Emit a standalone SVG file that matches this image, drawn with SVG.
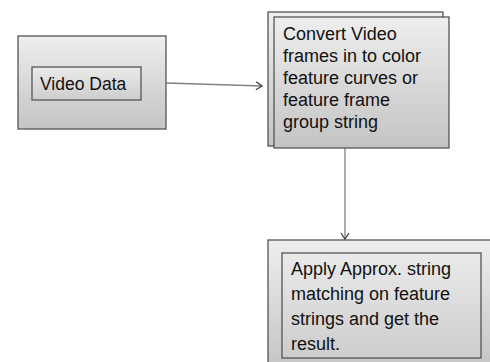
<svg xmlns="http://www.w3.org/2000/svg" width="490" height="362" viewBox="0 0 490 362">
<defs>
<linearGradient id="g" x1="0" y1="0" x2="0" y2="1">
<stop offset="0" stop-color="#eeeeee"/>
<stop offset="1" stop-color="#c4c4c4"/>
</linearGradient>
<linearGradient id="g2" x1="0" y1="0" x2="0" y2="1">
<stop offset="0" stop-color="#eaeaea"/>
<stop offset="1" stop-color="#cdcdcd"/>
</linearGradient>
<marker id="ah" markerWidth="10" markerHeight="10" refX="8" refY="5" orient="auto" markerUnits="userSpaceOnUse">
<path d="M2,1 L8,5 L2,9" fill="none" stroke="#404040" stroke-width="1.3"/>
</marker>
</defs>
<style>
.box{fill:url(#g);stroke:#555555;stroke-width:1.3}
.inner{fill:url(#g2);stroke:#555555;stroke-width:1.3}
.t{font-family:"Liberation Sans",Arial,sans-serif;fill:#111111}
.c{stroke:#808080;stroke-width:1.3;fill:none}
</style>
<rect width="490" height="362" fill="#ffffff"/>
<g id="video-data">
<rect class="box" x="18" y="36" width="148" height="93"/>
<rect class="inner" x="32" y="67" width="109" height="33"/>
<text class="t" x="40" y="90" font-size="17.5">Video Data</text>
</g>
<g id="convert">
<rect class="box" x="268" y="12" width="175" height="134"/>
<rect class="box" x="274" y="17" width="175" height="131"/>
<text class="t" font-size="18">
<tspan x="283" y="40">Convert Video</tspan>
<tspan x="283" y="62">frames in to color</tspan>
<tspan x="283" y="84">feature curves or</tspan>
<tspan x="283" y="106">feature frame</tspan>
<tspan x="283" y="128">group string</tspan>
</text>
</g>
<g id="matching">
<rect class="box" x="268" y="240" width="230" height="130"/>
<rect class="inner" x="282" y="253" width="199" height="105"/>
<text class="t" font-size="18">
<tspan x="291" y="275">Apply Approx. string</tspan>
<tspan x="291" y="300">matching on feature</tspan>
<tspan x="291" y="325">strings and get the</tspan>
<tspan x="291" y="350">result.</tspan>
</text>
</g>
<g id="connectors">
<line class="c" x1="166" y1="83" x2="262" y2="86" marker-end="url(#ah)"/>
<line class="c" x1="345" y1="148" x2="345" y2="239" marker-end="url(#ah)"/>
</g>
</svg>
